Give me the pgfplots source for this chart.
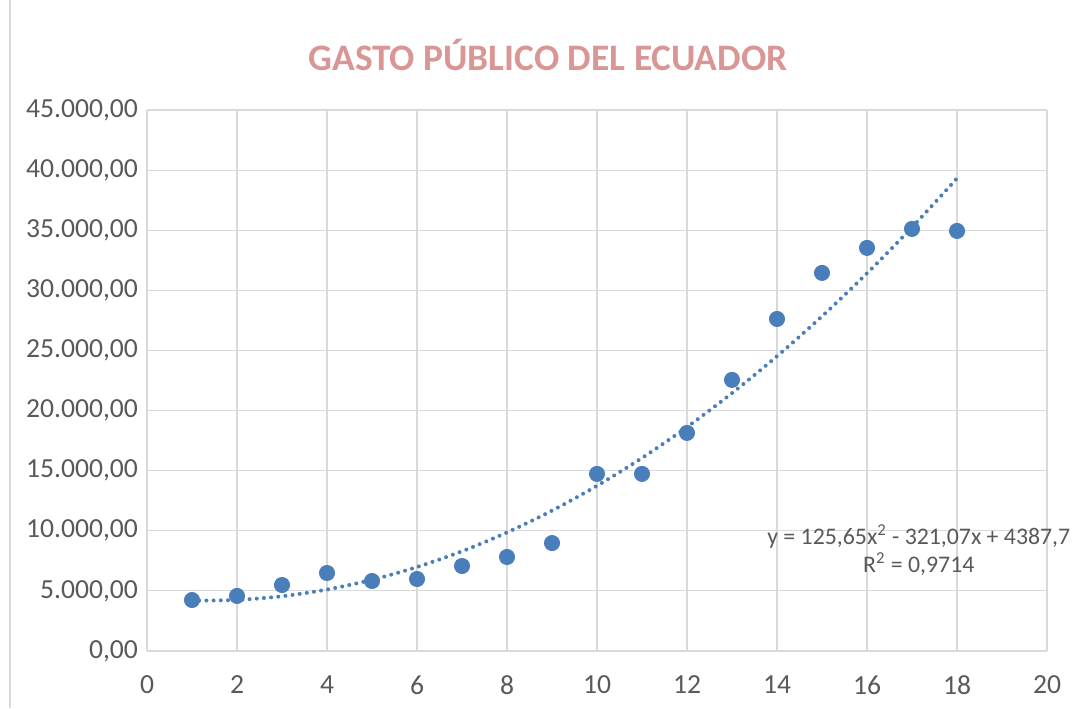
\documentclass[border=0pt]{standalone}
\usepackage{pgfplots}
\pgfplotsset{compat=1.18}
\usepackage{fontspec}
\setmainfont{Carlito}
\definecolor{ptblue}{HTML}{4A7EBB}
\definecolor{ttl}{HTML}{D99694}
\definecolor{tick}{HTML}{595959}
\definecolor{grd}{HTML}{D9D9D9}
\begin{document}
\begin{tikzpicture}
\path[use as bounding box] (0,0) rectangle (537pt,354pt);
\draw[grd, line width=0.6pt] (5pt,0) -- (5pt,354pt);
\node[text=ttl, font=\fontsize{18.7}{21}\selectfont\bfseries] at (274pt,326.5pt) {GASTO PÚBLICO DEL ECUADOR};
\begin{axis}[
  at={(73.5pt,28.5pt)}, anchor=south west,
  scale only axis, width=450pt, height=270.5pt,
  xmin=0, xmax=20, ymin=0, ymax=45000,
  xtick={0,2,...,20}, ytick={0,5000,...,45000},
  grid=major, major grid style={grd, line width=0.6pt},
  axis line style={grd, line width=0.6pt},
  axis x line*=bottom, axis y line*=left,
  tick style={draw=none},
  ticklabel style={text=tick, font=\fontsize{13.8}{16}\selectfont},
  scaled y ticks=false,
  /pgf/number format/assume math mode=true,
  yticklabel style={/pgf/number format/.cd, fixed, fixed zerofill, precision=2, use comma, 1000 sep={.}},
  xticklabel style={/pgf/number format/.cd, fixed, precision=0},
  xticklabel shift=9pt,
  yticklabel shift=1pt,
  clip=false,
]
\addplot[ptblue, line width=2pt, dash pattern=on 0pt off 3.6pt, line cap=round, smooth] coordinates {
(1,4192.28) (2,4248.16) (3,4555.34) (4,5113.82) (5,5923.6) (6,6984.68) (7,8297.06) (8,9860.74) (9,11675.72) (10,13742) (11,16059.58) (12,18628.46) (13,21448.64) (14,24520.12) (15,27842.9) (16,31416.98) (17,35242.36) (18,39319.04)
};
\addplot[only marks, mark=*, mark size=3.8pt, mark options={fill=ptblue, draw=ptblue}] coordinates {
(1,4240) (2,4580) (3,5490) (4,6490) (5,5820) (6,5990) (7,7070) (8,7820) (9,8980) (10,14730) (11,14730) (12,18140) (13,22550) (14,27620) (15,31450) (16,33530) (17,35110) (18,34940)
};
\node[text=tick, font=\fontsize{11.9}{14}\selectfont, align=center, inner sep=0pt] at (axis cs:17.15,8400) {y = 125,65x\textsuperscript{2} - 321,07x + 4387,7\\R\textsuperscript{2} = 0,9714};
\end{axis}
\end{tikzpicture}
\end{document}
